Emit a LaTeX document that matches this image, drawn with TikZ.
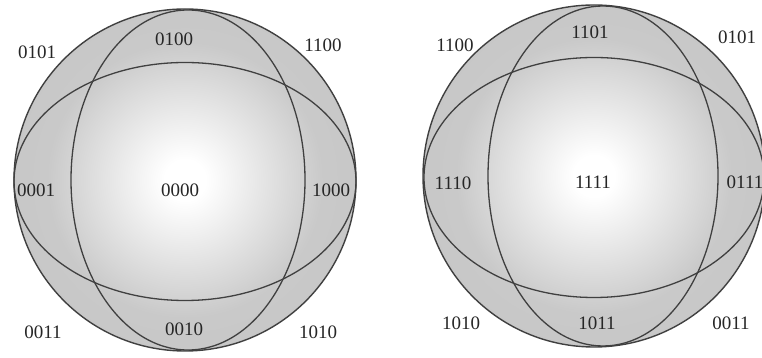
\documentclass[tikz,border=0pt]{standalone}
\usepackage{fontspec}
\setmainfont{Liberation Serif}
\usepackage{tikz}
\usetikzlibrary{positioning}

% soft white spot in the middle of each ball
\pgfdeclareradialshading{ballshade}{\pgfpoint{0bp}{0bp}}{%
  color(0bp)=(white); color(3bp)=(white); color(20bp)=(black!21);
  color(50bp)=(black!26)}

\tikzset{
  ball/.style={shading=ballshade, draw=black!75, line width=1.4pt},
  rim/.style={draw=black!75, line width=1.3pt},
  code/.style={inner sep=0pt, font=\fontsize{19}{20}\selectfont, text=black!85}
}

\begin{document}
\begin{tikzpicture}[x=1pt, y=1pt]
  \useasboundingbox (0,0) rectangle (762,358);

  % left ball
  \coordinate (lc) at (185,178);
  \shade[ball] (lc) circle[radius=171];
  \draw[rim] (185,176.5) ellipse[x radius=171, y radius=119];  % equator
  \draw[rim] (188,178) ellipse[x radius=117, y radius=170];    % meridian
  \node[code] (l0101) at (37,306) {0101};
  \node[code] (l0100) at (174,319) {0100};
  \node[code] (l1100) at (323,313) {1100};
  \node[code] (l0001) at (36,168) {0001};
  \node[code] (l0000) at (180,168) {0000};
  \node[code] (l1000) at (331,168) {1000};
  \node[code] (l0011) at (43,26) {0011};
  \node[code] (l0010) at (184,29) {0010};
  \node[code] (l1010) at (318,26) {1010};

  % right ball
  \coordinate (rc) at (594,182);
  \shade[ball] (rc) circle[radius=171];
  \draw[rim] (594,180.5) ellipse[x radius=170, y radius=120];  % equator
  \draw[rim] (603,182) ellipse[x radius=115, y radius=170];    % meridian
  \node[code] (r1100) at (455,313) {1100};
  \node[code] (r1101) at (590,326) {1101};
  \node[code] (r0101) at (737,321) {0101};
  \node[code] (r1110) at (453,175) {1110};
  \node[code] (r1111) at (593,176) {1111};
  \node[code] (r0111) at (745,176) {0111};
  \node[code] (r1010) at (461,35) {1010};
  \node[code] (r1011) at (597,35) {1011};
  \node[code] (r0011) at (731,35) {0011};
\end{tikzpicture}
\end{document}
